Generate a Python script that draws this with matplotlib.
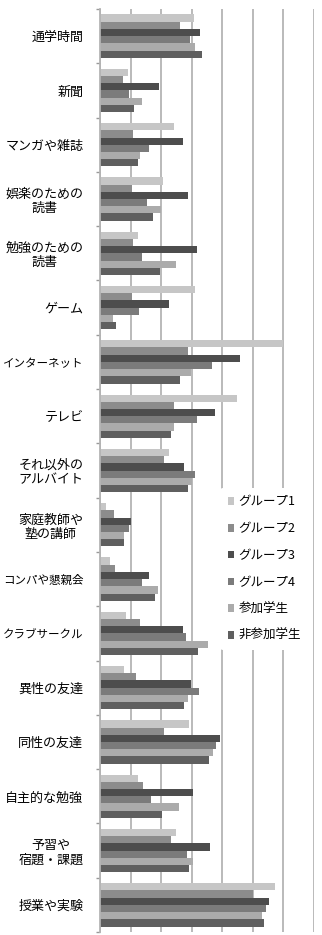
import matplotlib
matplotlib.use("Agg")
import matplotlib.pyplot as plt
from matplotlib.patches import Patch
import numpy as np

plt.rcParams['font.family'] = ['Noto Sans CJK JP', 'DejaVu Sans']

categories = ["通学時間", "新聞", "マンガや雑誌", "娯楽のための\n読書", "勉強のための\n読書",
              "ゲーム", "インターネット", "テレビ", "それ以外の\nアルバイト", "家庭教師や\n塾の講師",
              "コンパや懇親会", "クラブサークル", "異性の友達", "同性の友達", "自主的な勉強",
              "予習や\n宿題・課題", "授業や実験"]

series = ["グループ1", "グループ2", "グループ3", "グループ4", "参加学生", "非参加学生"]

group1 = [3.08, 0.91, 2.41, 2.05, 1.23, 3.12, 5.98, 4.48, 2.27, 0.20, 0.33, 0.86, 0.77, 2.90, 1.25, 2.49, 5.73]
group2 = [2.62, 0.76, 1.09, 1.05, 1.09, 1.05, 2.87, 2.42, 2.10, 0.46, 0.48, 1.31, 1.19, 2.08, 1.42, 2.32, 5.01]
group3 = [3.27, 1.94, 2.72, 2.87, 3.16, 2.27, 4.59, 3.75, 2.76, 1.03, 1.61, 2.70, 2.99, 3.93, 3.05, 3.60, 5.53]
group4 = [2.94, 0.96, 1.60, 1.54, 1.37, 1.29, 3.67, 3.16, 3.11, 0.94, 1.36, 2.82, 3.23, 3.80, 1.67, 2.85, 5.43]
sanka = [3.11, 1.37, 1.31, 1.98, 2.50, 0.41, 2.97, 2.42, 3.00, 0.80, 1.90, 3.52, 2.87, 3.69, 2.60, 3.03, 5.31]
hisanka = [3.33, 1.10, 1.25, 1.72, 1.95, 0.52, 2.62, 2.31, 2.87, 0.79, 1.81, 3.21, 2.75, 3.58, 2.03, 2.90, 5.35]

values = [group1, group2, group3, group4, sanka, hisanka]
colors = ["#c6c6c6", "#8c8c8c", "#4d4d4d", "#7b7b7b", "#ababab", "#5f5f5f"]

fig = plt.figure(figsize=(3.22, 9.35), dpi=100)
ax = fig.add_axes([100/322, 1-932/935, 214/322, 923/935])

y = np.arange(len(categories))
h = 0.133
for j in range(6):
    ax.barh(y + (j - 2.5) * h, values[j], height=h, color=colors[j], zorder=2)

ax.set_xlim(0, 7)
ax.set_ylim(len(categories) - 0.5, -0.5)
ax.set_xticks(range(8))
ax.tick_params(axis='x', length=0, labelbottom=False)
ax.grid(axis='x', color='#b4b4b4', linewidth=1.3, zorder=0)
for s in ['top', 'right', 'bottom']:
    ax.spines[s].set_visible(False)
ax.spines['left'].set_color('#b4b4b4')
ax.spines['left'].set_linewidth(1.3)

ax.set_yticks(y)
ax.set_yticklabels(categories, fontsize=9.4, linespacing=1.15, multialignment='center')
# long kana labels are narrower in the original font, shrink them to fit
for lab in ax.get_yticklabels():
    longest = max(len(s) for s in lab.get_text().split("\n"))
    if longest >= 7:
        lab.set_fontsize(8.3)
ax.tick_params(axis='y', which='major', length=0, pad=12)
ax.set_yticks(np.arange(-0.5, len(categories)), minor=True)
ax.tick_params(axis='y', which='minor', length=3, color='#999999', width=1)

handles = [Patch(facecolor=c, edgecolor='none') for c in colors]
leg = ax.legend(handles, series, loc='upper left', bbox_to_anchor=(220/322, 1-488/935),
                bbox_transform=fig.transFigure, frameon=True, fontsize=9,
                handlelength=0.55, handleheight=0.55, handletextpad=0.35,
                labelspacing=1.1, borderpad=0.6, borderaxespad=0)
leg.get_frame().set_facecolor('white')
leg.get_frame().set_edgecolor('none')
leg.get_frame().set_alpha(1)
leg.set_zorder(5)

fig.savefig("out.png", dpi=100)
